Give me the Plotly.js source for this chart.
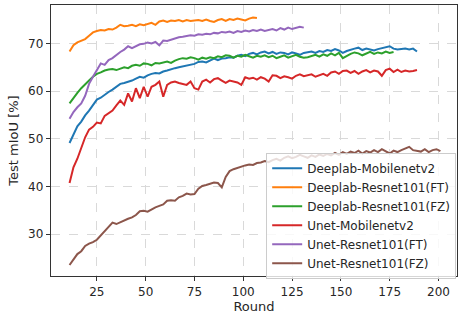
<!DOCTYPE html>
<html>
<head>
<meta charset="utf-8">
<script src="https://cdn.plot.ly/plotly-3.0.1.min.js"></script>
<style>html,body{margin:0;padding:0;background:#fff;}#chart{width:458px;height:318px;}</style>
</head>
<body>
<div id="chart"></div>
<script>
var rounds = [11,13,15,17,19,21,23,25,27,29,31,33,35,37,39,41,43,45,47,49,51,53,55,57,59,61,63,65,67,69,71,73,75,77,79,81,83,85,87,89,91,93,95,97,99,101,103,105,107,109,111,113,115,117,119,121,123,125,127,129,131,133,135,137,139,141,143,145,147,149,151,153,155,157,159,161,163,165,167,169,171,173,175,177,179,181,183,185,187,189,191,193,195,197,199,201];

var seriesNames = ["Deeplab-Mobilenetv2","Deeplab-Resnet101(FT)","Deeplab-Resnet101(FZ)","Unet-Mobilenetv2","Unet-Resnet101(FT)","Unet-Resnet101(FZ)"];

var deeplabMobilenet = [49.1,50.8,52.6,53.6,54.9,55.9,57.0,58.2,58.6,59.3,59.8,60.3,60.9,61.5,61.7,61.9,62.2,62.6,63.0,62.8,63.3,63.6,63.8,63.7,64.1,64.3,64.6,64.8,65.0,65.2,65.4,65.5,65.7,66.1,66.2,66.0,66.4,66.8,66.5,66.8,66.9,67.1,67.0,67.4,67.6,67.3,67.8,68.0,67.7,68.1,68.3,67.9,68.2,67.8,68.1,68.0,67.7,68.1,67.9,67.6,68.0,68.1,68.3,68.0,68.4,68.2,68.6,68.4,68.8,68.5,68.0,68.4,68.7,68.9,69.1,68.6,68.9,68.7,68.5,68.8,69.0,69.2,69.4,68.9,68.7,68.8,68.9,68.7,68.9,68.3];

var deeplabResnetFT = [68.3,69.6,70.2,70.5,70.9,71.6,72.3,72.6,72.8,72.7,73.0,72.9,73.3,73.9,73.6,73.7,73.9,73.6,74.0,73.8,74.1,74.3,73.9,74.6,74.8,74.5,74.8,74.7,74.9,74.6,74.9,74.7,74.8,74.9,74.7,75.0,74.7,74.5,74.9,75.1,74.7,75.1,74.9,75.2,75.0,74.8,75.2,75.4,75.3];

var deeplabResnetFZ = [57.4,58.6,59.6,60.6,61.3,62.2,63.0,63.6,63.9,64.3,64.5,64.6,64.4,64.7,65.0,64.8,65.3,65.5,65.3,65.8,65.7,65.4,65.9,65.8,66.0,66.2,65.9,66.4,66.7,66.9,66.8,67.1,66.9,66.6,67.0,66.8,67.1,66.9,67.3,67.1,67.5,67.4,67.0,67.4,67.2,67.6,67.3,67.0,67.4,67.2,67.5,67.1,67.4,66.9,67.2,67.5,67.0,67.3,67.6,67.2,67.0,67.1,67.3,67.6,67.2,67.7,67.4,67.9,67.5,68.0,66.9,67.4,67.8,68.1,67.9,67.5,67.9,68.2,67.8,68.1,67.9,68.3,68.0,68.2];

var unetMobilenet = [40.7,44.0,45.8,48.0,50.3,51.9,52.5,53.4,53.2,54.8,55.3,55.9,57.0,58.0,57.1,59.5,57.8,60.6,58.5,60.9,58.8,60.9,61.3,62.0,58.8,61.3,61.8,62.0,61.7,61.5,61.3,62.0,60.6,60.3,62.0,62.4,61.8,62.5,62.7,62.2,61.7,62.2,62.0,61.8,61.3,62.9,62.6,62.8,62.4,62.9,62.6,62.0,63.3,63.2,62.7,63.1,62.9,62.6,63.2,63.5,63.1,63.3,63.5,63.0,63.3,63.6,63.2,63.9,64.1,63.6,64.2,64.3,63.8,64.2,63.6,64.1,64.4,63.9,64.3,64.1,63.2,64.4,64.7,64.0,64.5,64.0,64.3,64.1,64.2,64.4];

var unetResnetFT = [54.2,55.6,56.6,57.4,59.0,61.5,63.0,64.4,65.8,65.5,66.5,66.9,67.6,68.2,68.7,69.4,69.0,69.4,69.8,69.9,70.2,70.0,70.3,69.6,70.6,70.5,70.8,71.1,71.3,71.4,71.6,71.7,71.6,71.9,71.8,72.0,71.9,72.2,72.1,72.4,72.3,72.5,72.2,72.6,72.4,72.7,72.5,72.8,72.6,72.9,72.6,72.8,73.0,72.7,73.2,72.9,73.3,73.0,73.2,73.5,73.3];

var unetResnetFZ = [23.5,24.6,25.8,26.4,27.5,28.0,28.3,28.8,29.7,30.6,31.3,32.4,32.1,32.5,32.8,33.2,33.5,34.0,34.8,34.9,34.7,35.2,35.6,35.9,36.2,37.0,37.1,37.0,37.7,38.0,38.5,38.3,38.4,39.5,40.1,40.3,40.6,40.8,40.7,39.8,42.0,43.2,43.6,43.9,44.2,44.4,44.6,44.5,44.9,45.0,45.3,45.1,45.5,45.8,45.4,46.0,46.3,45.9,46.2,46.6,46.3,46.0,46.5,46.2,46.7,46.4,46.8,46.5,47.0,46.6,47.2,46.8,47.3,47.0,47.5,46.9,47.4,47.1,47.6,47.2,47.8,47.3,46.9,47.5,47.2,47.6,48.0,48.3,47.6,47.4,47.3,47.8,47.2,47.6,47.8,47.4];

var xTicks = [25,50,75,100,125,150,175,200];
var yTicks = [30,40,50,60,70];

var colors = ["#1f77b4","#ff7f0e","#2ca02c","#d62728","#9467bd","#8c564b"];
var allSeries = [deeplabMobilenet, deeplabResnetFT, deeplabResnetFZ, unetMobilenet, unetResnetFT, unetResnetFZ];

var traces = allSeries.map(function(vals, i){
  return {
    x: rounds.slice(0, vals.length),
    y: vals,
    type: 'scatter',
    mode: 'lines',
    name: seriesNames[i],
    line: {color: colors[i], width: 2}
  };
});

var axisCommon = {
  showline: true, mirror: true, linecolor: '#333', linewidth: 1.2,
  ticks: 'outside', ticklen: 4, tickwidth: 1, tickcolor: '#333',
  showgrid: true, gridcolor: '#d9d9d9', griddash: 'dash', gridwidth: 1,
  zeroline: false,
  tickfont: {family: 'DejaVu Sans', size: 12, color: '#262626'}
};

var layout = {
  width: 458, height: 318,
  margin: {l: 51, r: 1, t: 5, b: 42},
  paper_bgcolor: '#fff', plot_bgcolor: '#fff',
  showlegend: true,
  xaxis: Object.assign({}, axisCommon, {
    range: [1.5, 209.5], tickvals: xTicks, ticktext: xTicks.map(String),
    title: {text: 'Round', font: {family: 'DejaVu Sans', size: 13, color: '#262626'}, standoff: 4}
  }),
  yaxis: Object.assign({}, axisCommon, {
    range: [21.2, 78.05], tickvals: yTicks, ticktext: yTicks.map(String),
    title: {text: 'Test mIoU [%]', font: {family: 'DejaVu Sans', size: 13, color: '#262626'}, standoff: 6}
  }),
  legend: {
    x: 0.53, y: 0.455, xanchor: 'left', yanchor: 'top',
    bgcolor: 'rgba(255,255,255,0.8)', bordercolor: '#cccccc', borderwidth: 1,
    font: {family: 'DejaVu Sans', size: 12, color: '#262626'},
    itemwidth: 30, tracegroupgap: 0
  }
};

Plotly.newPlot('chart', traces, layout, {staticPlot: true, displayModeBar: false});
</script>
</body>
</html>
